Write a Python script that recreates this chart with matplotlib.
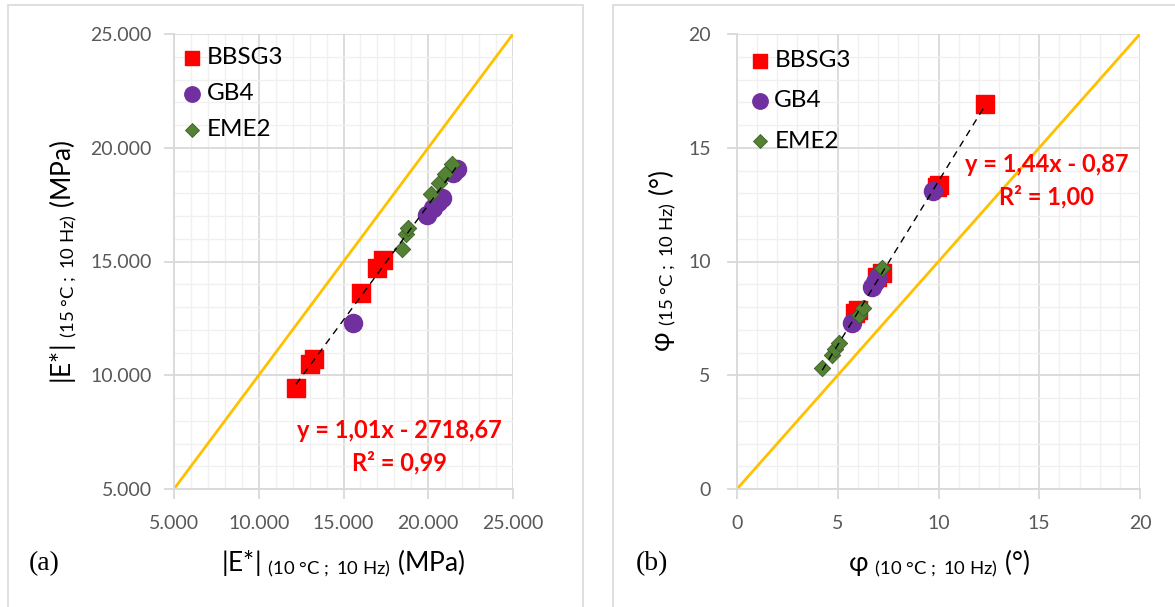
import numpy as np
import matplotlib
matplotlib.use("Agg")
import matplotlib.pyplot as plt
from matplotlib.ticker import MultipleLocator, FuncFormatter
from matplotlib.patches import Rectangle

plt.rcParams['font.family'] = ['Lato', 'DejaVu Sans']
plt.rcParams['mathtext.fontset'] = 'custom'
plt.rcParams['mathtext.rm'] = 'Lato'
plt.rcParams['mathtext.it'] = 'Lato:italic'
plt.rcParams['mathtext.bf'] = 'Lato:bold'

# (a) module |E*| (MPa) : 10 °C en x, 15 °C en y
bbsg3_e10 = [12200, 13020, 13260, 16030, 16980, 17330]
bbsg3_e15 = [9440, 10500, 10710, 13620, 14710, 15070]
gb4_e10 = [15580, 19910, 20300, 20590, 20790, 21480, 21720]
gb4_e15 = [12280, 17040, 17340, 17630, 17780, 18880, 19050]
eme2_e10 = [18430, 18670, 18820, 20140, 20650, 20990, 21380]
eme2_e15 = [15540, 16210, 16470, 17970, 18460, 18830, 19270]
pente_a, ordo_a, r2_a = 1.01, -2718.67, 0.99

# (b) angle de phase (°)
bbsg3_p10 = [5.86, 6.02, 6.93, 7.18, 9.91, 10.02, 12.31]
bbsg3_p15 = [7.72, 7.87, 9.33, 9.51, 13.29, 13.35, 16.92]
gb4_p10 = [5.69, 6.68, 6.85, 7.01, 9.74]
gb4_p15 = [7.31, 8.89, 9.11, 9.30, 13.10]
eme2_p10 = [4.23, 4.70, 4.86, 5.08, 6.07, 6.27, 7.21]
eme2_p15 = [5.30, 5.89, 6.14, 6.40, 7.65, 7.97, 9.73]
pente_b, ordo_b, r2_b = 1.44, -0.87, 1.00

ROUGE = '#FF0000'
VIOLET = '#7030A0'
VERT = '#548235'
JAUNE = '#FFC000'
GRIS_TXT = '#595959'


def virgule(v, nd):
    return f"{v:.{nd}f}".replace('.', ',')


def milliers(v, pos):
    return f"{v:,.0f}".replace(',', '.')


def mise_en_forme(ax, lim, major, minor, fmt, pad):
    ax.set_xlim(lim)
    ax.set_ylim(lim)
    ax.xaxis.set_major_locator(MultipleLocator(major))
    ax.yaxis.set_major_locator(MultipleLocator(major))
    ax.xaxis.set_minor_locator(MultipleLocator(minor))
    ax.yaxis.set_minor_locator(MultipleLocator(minor))
    ax.xaxis.set_major_formatter(FuncFormatter(fmt))
    ax.yaxis.set_major_formatter(FuncFormatter(fmt))
    ax.grid(True, which='major', color='#D9D9D9', lw=1.3, zorder=0)
    ax.grid(True, which='minor', color='#F0F0F0', lw=1.0, zorder=0)
    ax.set_axisbelow(True)
    for s in ['top', 'right']:
        ax.spines[s].set_visible(False)
    for s in ['left', 'bottom']:
        ax.spines[s].set_color('#D9D9D9')
        ax.spines[s].set_linewidth(1.3)
    ax.tick_params(which='major', length=7, width=1.3, color='#D9D9D9',
                   labelsize=14, labelcolor=GRIS_TXT)
    ax.tick_params(axis='x', pad=12)
    ax.tick_params(axis='y', pad=pad)
    ax.tick_params(which='minor', length=0)


def nuage(ax, x1, y1, x2, y2, x3, y3, pente, ordo, r2, lim, txt_xy, leg_sp, leg_xy):
    ax.plot(lim, lim, color=JAUNE, lw=2, zorder=1)
    ax.scatter(x1, y1, marker='s', s=150, color=ROUGE, zorder=3, label='BBSG3')
    ax.scatter(x2, y2, marker='o', s=170, color=VIOLET, zorder=4, label='GB4')
    ax.scatter(x3, y3, marker='D', s=70, color=VERT, edgecolor='#3B5E25',
               lw=0.6, zorder=5, label='EME2')
    tous = np.concatenate([x1, x2, x3])
    xt = np.array([tous.min(), tous.max()])
    ax.plot(xt, pente * xt + ordo, color='black', lw=1, ls=(0, (5, 4)), zorder=6)
    signe = '-' if ordo < 0 else '+'
    eq = f"y = {virgule(pente, 2)}x {signe} {virgule(abs(ordo), 2)}\nR² = {virgule(r2, 2)}"
    ax.text(txt_xy[0], txt_xy[1], eq, transform=ax.transAxes, ha='center', va='center',
            color=ROUGE, fontsize=17, fontweight='bold', linespacing=1.45, zorder=7)
    ax.legend(loc='upper left', bbox_to_anchor=leg_xy, frameon=False, fontsize=17.5,
              handletextpad=0.1, labelspacing=leg_sp, handlelength=1.0, borderaxespad=0.2,
              markerscale=0.85)


fig = plt.figure(figsize=(11.75, 6.07), dpi=100)

fig.patches.append(Rectangle((8 / 1175, -0.1), 575 / 1175, 1.1 - 5 / 607,
                             transform=fig.transFigure, fill=False,
                             edgecolor='#D9D9D9', lw=1.2))
fig.patches.append(Rectangle((613 / 1175, -0.1), 0.5, 1.1 - 5 / 607,
                             transform=fig.transFigure, fill=False,
                             edgecolor='#D9D9D9', lw=1.2))

ax1 = fig.add_axes([174 / 1175, 1 - 489 / 607, 339 / 1175, 455 / 607])
ax2 = fig.add_axes([737 / 1175, 1 - 489 / 607, 403 / 1175, 455 / 607])

mise_en_forme(ax1, (5000, 25000), 5000, 1000, milliers, 9)
mise_en_forme(ax2, (0, 20), 5, 1, lambda v, p: f"{v:.0f}", 12)

nuage(ax1, bbsg3_e10, bbsg3_e15, gb4_e10, gb4_e15, eme2_e10, eme2_e15,
      pente_a, ordo_a, r2_a, (5000, 25000), (0.664, 0.092), 0.62, (-0.025, 1.003))
nuage(ax2, bbsg3_p10, bbsg3_p15, gb4_p10, gb4_p15, eme2_p10, eme2_p15,
      pente_b, ordo_b, r2_b, (0, 20), (0.769, 0.677), 0.8, (-0.01, 0.997))

lab_fs = 19
ax1.set_xlabel(r'|E*| $_{\mathregular{(10\ °C\ ;\ 10\ Hz)}}$ (MPa)', fontsize=lab_fs, color='black')
ax1.set_ylabel(r'|E*| $_{\mathregular{(15\ °C\ ;\ 10\ Hz)}}$ (MPa)', fontsize=lab_fs, color='black')
ax2.set_xlabel(r'φ $_{\mathregular{(10\ °C\ ;\ 10\ Hz)}}$ (°)', fontsize=lab_fs, color='black')
ax2.set_ylabel(r'φ $_{\mathregular{(15\ °C\ ;\ 10\ Hz)}}$ (°)', fontsize=lab_fs, color='black')
ax1.xaxis.set_label_coords(0.5, -0.13)
ax2.xaxis.set_label_coords(0.5, -0.13)
ax1.yaxis.set_label_coords(-0.277, 0.5)
ax2.yaxis.set_label_coords(-0.144, 0.5)

fig.text(44 / 1175, 1 - 564 / 607, '(a)', fontsize=20, family='Liberation Serif',
         ha='center', va='center')
fig.text(652 / 1175, 1 - 564 / 607, '(b)', fontsize=20, family='Liberation Serif',
         ha='center', va='center')

fig.savefig('out.png', dpi=100)
